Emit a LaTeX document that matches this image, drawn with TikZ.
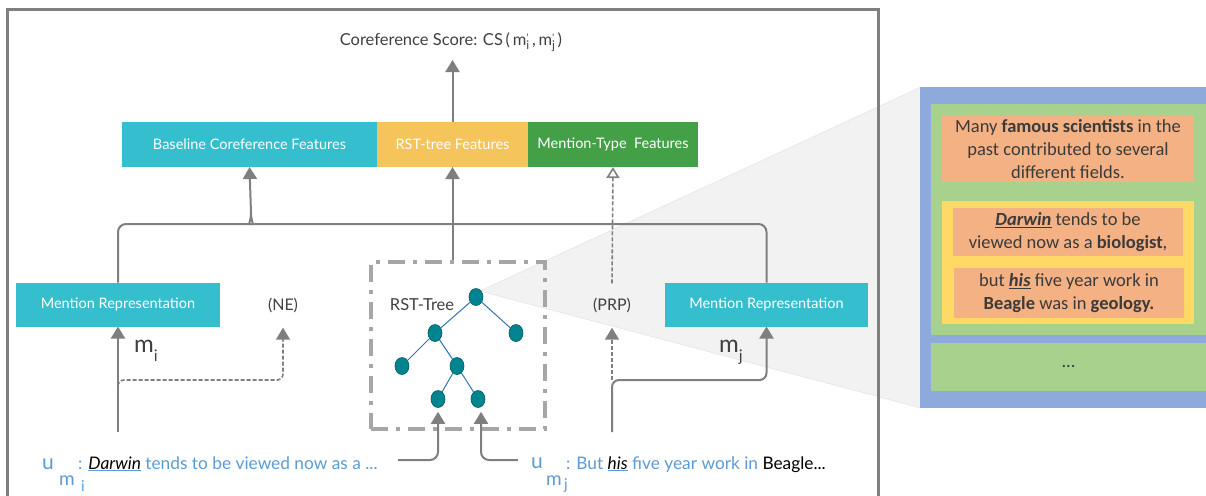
\documentclass[tikz,border=0pt]{standalone}
\usepackage{fontspec}
\setmainfont{Lato}
\newfontfamily\calfont{Carlito}
\usetikzlibrary{arrows.meta,shapes.geometric}
\definecolor{lgray}{HTML}{7F7F7F}
\definecolor{tgray}{HTML}{404040}
\definecolor{fcyan}{HTML}{35BECE}
\definecolor{fyellow}{HTML}{F5C45A}
\definecolor{fgreen}{HTML}{43A047}
\definecolor{tteal}{HTML}{00848F}
\definecolor{tedge}{HTML}{2E75B6}
\definecolor{ublue}{HTML}{5B9BD5}
\definecolor{pblue}{HTML}{8EA9DB}
\definecolor{pgreen}{HTML}{A9D18E}
\definecolor{porange}{HTML}{F4B183}
\definecolor{pyellow}{HTML}{FFD966}
\definecolor{ptext}{HTML}{3B3B3B}
\definecolor{wedgegray}{HTML}{F2F2F2}
\definecolor{dgray}{HTML}{A6A6A6}
\begin{document}
\begin{tikzpicture}[x=1pt,y=-1pt,
  featbox/.style={draw=none,inner sep=0pt,outer sep=0pt,minimum height=45pt,text=white,font=\fontsize{14.5}{16}\selectfont},
  repbox/.style={fill=fcyan,inner sep=0pt,outer sep=0pt,minimum height=44pt,text=white,font=\fontsize{14.5}{16}\selectfont},
  lbl/.style={text=tgray,font=\fontsize{16.5}{18}\selectfont},
  tagnode/.style={text=tgray,font=\fontsize{16}{18}\selectfont,minimum height=44pt,inner sep=0pt},
  conn/.style={draw=lgray,line width=2pt,-{Triangle[width=14pt,length=12pt]}},
  plain/.style={draw=lgray,line width=2pt},
  dconn/.style={draw=lgray,line width=1.6pt,dash pattern=on 4pt off 2pt,-{Triangle[width=14pt,length=12pt]}},
  tnode/.style={ellipse,fill=tteal,draw=tteal!70!black,line width=0.6pt,minimum width=14pt,minimum height=17pt,inner sep=0pt},
  tedgestyle/.style={draw=tedge,line width=1pt},
  pbox/.style={inner sep=0pt,outer sep=0pt,align=center,text=ptext,font=\calfont\fontsize{18.5}{23}\selectfont},
  ubig/.style={anchor=base west,inner sep=0pt,text=ublue,font=\fontsize{21}{21}\selectfont},
  usub/.style={anchor=base west,inner sep=0pt,text=ublue,font=\fontsize{19}{19}\selectfont},
  usubsub/.style={anchor=base west,inner sep=0pt,text=ublue,font=\fontsize{15}{15}\selectfont},
  utext/.style={anchor=base west,inner sep=0pt,text=ublue,font=\fontsize{17.3}{18}\selectfont}
]
\useasboundingbox (0,0) rectangle (1206,495);

% shaded zoom wedge
\coordinate (wedgeA) at (480,291);
\coordinate (wedgeT) at (921,87);
\coordinate (wedgeB) at (921,408);
\fill[wedgegray] (wedgeA) -- (wedgeT) -- (wedgeB) -- cycle;
\draw[black!10,line width=0.6pt] (wedgeT) -- (wedgeA) -- (wedgeB);

% outer frame
\draw[draw=lgray,line width=3pt] (7,10) rectangle (878,510);

% score
\node[lbl] (score) at (451,42) {Coreference Score: CS\,(\,m\rlap{\raisebox{4pt}{\fontsize{10}{10}\selectfont '}}\raisebox{-4pt}{\fontsize{12}{12}\selectfont i}\,,\,m\rlap{\raisebox{4pt}{\fontsize{10}{10}\selectfont '}}\raisebox{-4pt}{\fontsize{12}{12}\selectfont j}\,)};
\coordinate (scoretip) at (452.5,60);

% feature boxes
\node[featbox,fill=fcyan,minimum width=255pt] (base) at (249.5,144.5) {Baseline Coreference Features};
\node[featbox,fill=fyellow,minimum width=151pt] (rst) at (452.5,144.5) {RST-tree Features};
\node[featbox,fill=fgreen,minimum width=170pt] (mt) at (613,144.5) {Mention-Type~ Features};
\draw[conn] (rst.north) -- (scoretip);

% mention representations
\node[repbox,minimum width=204pt] (mrL) at (118,304.5) {Mention Representation};
\node[repbox,minimum width=203pt] (mrR) at (766.5,304.5) {Mention Representation};
\node[tagnode] (ne) at (283,305.5) {(NE)};
\node[tagnode] (prp) at (612,305.5) {(PRP)};

\node[inner sep=0pt,text=tgray,font=\fontsize{24}{24}\selectfont,anchor=base west] (mi) at (134,352) {m\raisebox{-9pt}{\fontsize{16}{16}\selectfont i}};
\node[inner sep=0pt,text=tgray,font=\fontsize{24}{24}\selectfont,anchor=base west] (mj) at (719,352) {m\raisebox{-9pt}{\fontsize{16}{16}\selectfont j}};

% RST tree box
\node[draw=dgray,line width=4.5pt,dash pattern=on 17pt off 8pt on 4pt off 8pt,minimum width=174pt,minimum height=167pt,inner sep=0pt] (rstbox) at (458,345.5) {};
\node[lbl,anchor=center] (rstlabel) at (422,305) {RST-Tree};
\node[tnode] (t0) at (476,297) {};
\node[tnode] (t1) at (435,333) {};
\node[tnode] (t2) at (516,333) {};
\node[tnode] (t3) at (402,366) {};
\node[tnode] (t4) at (457,366) {};
\node[tnode] (t5) at (438,399) {};
\node[tnode] (t6) at (478,399) {};
\draw[tedgestyle] (t0) -- (t1);
\draw[tedgestyle] (t0) -- (t2);
\draw[tedgestyle] (t1) -- (t3);
\draw[tedgestyle] (t1) -- (t4);
\draw[tedgestyle] (t4) -- (t5);
\draw[tedgestyle] (t4) -- (t6);

% connectors into RST tree
\coordinate (aL) at (398,460);
\coordinate (aR) at (518,460);
\draw[conn,rounded corners=8pt,shorten >=4pt] (aL) -| (t5.south);
\draw[conn,rounded corners=8pt,shorten >=4pt] (aR) -| ([xshift=3pt]t6.south);

% top joining bracket
\coordinate (J) at (251,213);
\coordinate (hL) at (118,224);
\coordinate (hR) at (766.5,224);
\draw[plain,rounded corners=8pt] (mrL.north) -- (hL) -- (242,224) .. controls (248,224) and (251,221) .. (J);
\draw[plain,rounded corners=8pt] (mrR.north) -- (hR) -- (260,224) .. controls (254,224) and (251,221) .. (J);
\draw[conn] (J) -- (base.south);
\draw[conn] (rst.south |- rstbox.north) -- (rst.south);
\draw[draw=lgray,line width=1.6pt,dash pattern=on 4pt off 2pt,-{Triangle[open,width=13pt,length=11pt,fill=white]}] (prp.north) -- (mt.south);

% left utterance connectors
\coordinate (sL) at (118,432);
\coordinate (cL1) at (118,398);
\coordinate (cL2) at (118,380);
\draw[conn] (sL) -- (mrL.south);
\draw[dconn,rounded corners=6pt] (cL1) -- (cL2) -| (ne.south);

% right utterance connectors
\coordinate (sR) at (612,432);
\coordinate (bR) at (612,380);
\draw[conn,rounded corners=7pt] (sR) |- (mrR.south |- bR) -- (mrR.south);
\draw[dconn] (bR) -- (prp.south);

% utterances
\node[ubig] (uL) at (42,469) {u};
\node[usub] (umL) at (59,485) {m};
\node[usubsub] (uiL) at (81,491) {i};
\node[utext] (txL) at (78,469) {: \underline{\textcolor{black}{\textit{Darwin}}} tends to be viewed now as a ...};

\node[ubig] (uR) at (531,468) {u};
\node[usub] (umR) at (546,485) {m};
\node[usubsub] (ujR) at (564,489) {j};
\node[utext] (txR) at (566,469) {: But \underline{\textcolor{black}{\textit{his}}} five year work in \textcolor{black}{Beagle...}};

% zoomed panel
\node[fill=pblue,minimum width=286pt,minimum height=321pt,inner sep=0pt,outer sep=0pt] (panel) at (1063,247.5) {};
\node[fill=pgreen,minimum width=275pt,minimum height=231pt,inner sep=0pt,outer sep=0pt] (g1) at (1068.5,219.5) {};
\node[pbox,fill=porange,minimum width=252pt,minimum height=66pt] (o1) at (1068,149) {Many \textbf{famous scientists} in the\\past contributed to several\\different fields.};
\node[fill=pyellow,minimum width=252pt,minimum height=123pt,inner sep=0pt,outer sep=0pt] (yb) at (1068,262.5) {};
\node[pbox,fill=porange,minimum width=230pt,minimum height=48pt] (o2) at (1068,232) {\underline{\textbf{\textit{Darwin}}} tends to be\\viewed now as a \textbf{biologist},};
\node[pbox,fill=porange,minimum width=230pt,minimum height=50pt] (o3) at (1069,293) {but \underline{\textbf{\textit{his}}} five year work in\\\textbf{Beagle} was in \textbf{geology.}};
\node[pbox,fill=pgreen,minimum width=275pt,minimum height=48pt] (g2) at (1068.5,367) {...};
\end{tikzpicture}
\end{document}
